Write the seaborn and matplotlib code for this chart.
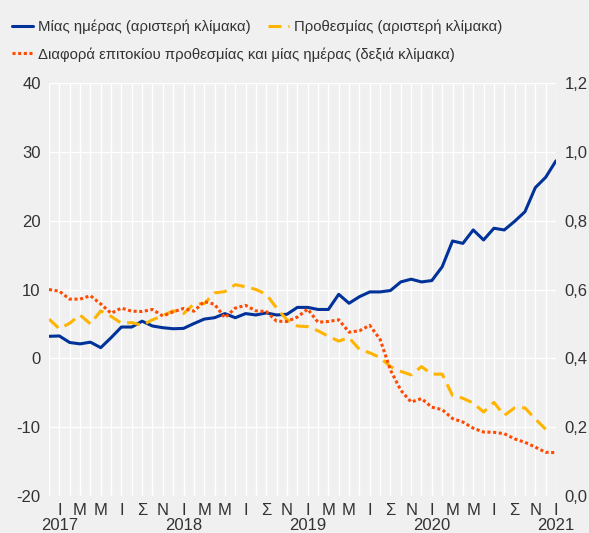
import numpy as np
import pandas as pd
import seaborn as sns
import matplotlib.pyplot as plt
from matplotlib.lines import Line2D
from matplotlib.ticker import FixedLocator, FuncFormatter

# Monthly observations, December 2016 - January 2021
months = pd.date_range("2016-12-01", "2021-01-01", freq="MS")

overnight = [3.2, 3.25, 2.3, 2.1, 2.35, 1.55, 3.0, 4.55, 4.55, 5.4,
             4.7, 4.45, 4.3, 4.35, 5.05, 5.7, 5.9, 6.5, 5.9, 6.5,
             6.3, 6.6, 6.3, 6.4, 7.4, 7.4, 7.1, 7.1, 9.3, 8.0,
             8.95, 9.65, 9.65, 9.85, 11.1, 11.5, 11.1, 11.3, 13.3, 17.05,
             16.7, 18.65, 17.2, 18.9, 18.65, 19.9, 21.3, 24.8, 26.3, 28.7]

term = [5.7, 4.3, 5.1, 6.3, 5.0, 6.9, 6.1, 5.1, 5.2, 4.8,
        5.6, 6.2, 6.9, 6.5, 7.9, 7.95, 9.5, 9.7, 10.7, 10.4,
        10.0, 9.3, 7.3, 5.6, 4.7, 4.6, 4.0, 3.2, 2.5, 3.0,
        1.3, 0.8, 0.1, -1.2, -1.9, -2.4, -1.2, -2.3, -2.3, -5.4,
        -5.8, -6.5, -7.8, -6.4, -8.3, -7.2, -7.2, -8.8, -10.3, np.nan]

spread = [0.600, 0.595, 0.572, 0.572, 0.582, 0.558, 0.531, 0.546, 0.537, 0.536,
          0.542, 0.523, 0.535, 0.545, 0.537, 0.565, 0.557, 0.518, 0.546, 0.554,
          0.538, 0.536, 0.508, 0.507, 0.520, 0.543, 0.505, 0.507, 0.512, 0.476,
          0.480, 0.496, 0.455, 0.366, 0.307, 0.273, 0.283, 0.258, 0.251, 0.225,
          0.215, 0.197, 0.186, 0.185, 0.181, 0.166, 0.156, 0.142, 0.127, 0.126]

month_initials = ["Ι", "Φ", "Μ", "Α", "Μ", "Ι", "Ι", "Α", "Σ", "Ο", "Ν", "Δ"]

label_overnight = "Μίας ημέρας (αριστερή κλίμακα)"
label_term = "Προθεσμίας (αριστερή κλίμακα)"
label_spread = "Διαφορά επιτοκίου προθεσμίας και μίας ημέρας (δεξιά κλίμακα)"

left_ticks = [-20, -10, 0, 10, 20, 30, 40]
right_ticks = [0.0, 0.2, 0.4, 0.6, 0.8, 1.0, 1.2]

BG = "#F0F0F0"
BLUE = "#003299"
YELLOW = "#FFB400"
ORANGE = "#FF4B00"
TEXT = "#333333"

df = pd.DataFrame({
    "t": np.arange(len(months)),
    "overnight": overnight,
    "term": term,
    "spread": spread,
})

sns.set_theme(style="white")
plt.rcParams["font.family"] = ["Liberation Sans", "DejaVu Sans"]
plt.rcParams["text.color"] = TEXT

W, H = 589, 533
fig = plt.figure(figsize=(W / 100, H / 100), dpi=100, facecolor=BG)
x0, x1, y0, y1 = 49, 556, 83, 496
ax = fig.add_axes([x0 / W, 1 - y1 / H, (x1 - x0) / W, (y1 - y0) / H])
ax.set_facecolor(BG)

LW = 2.2
DASH = (0, (4.2, 2.3))
DOT = (0, (1, 0.85))
sns.lineplot(data=df, x="t", y="overnight", ax=ax, color=BLUE, lw=LW,
             legend=False)
sns.lineplot(data=df, x="t", y="term", ax=ax, color=YELLOW, lw=LW,
             linestyle=DASH, legend=False)

ax2 = ax.twinx()
sns.lineplot(data=df, x="t", y="spread", ax=ax2, color=ORANGE, lw=LW,
             linestyle=DOT, legend=False)

# axes ranges
n = len(months)
ax.set_xlim(0, n - 1)
ax.set_ylim(-20, 40)
ax2.set_ylim(0, 1.2)

# month initials (every second month) as major labels, years as minor labels
month_labels = [month_initials[d.month - 1] if d.month % 2 == 1 else ""
                for d in months]
ax.xaxis.set_major_locator(FixedLocator(np.arange(n)))
ax.set_xticklabels(month_labels)
jan = [i for i, d in enumerate(months) if d.month == 1]
ax.xaxis.remove_overlapping_locs = False
ax.xaxis.set_minor_locator(FixedLocator(jan))
ax.set_xticks(jan, [str(months[i].year) for i in jan], minor=True)

ax.set_yticks(left_ticks)
ax.set_yticklabels([str(v) for v in left_ticks])
ax2.set_yticks(right_ticks)
ax2.yaxis.set_major_formatter(FuncFormatter(lambda v, _: f"{v:.1f}".replace(".", ",")))

for a in (ax, ax2):
    a.set_xlabel("")
    a.set_ylabel("")
    for s in a.spines.values():
        s.set_visible(False)
    a.tick_params(which="both", length=0, labelsize=12, labelcolor=TEXT)
ax.tick_params(axis="x", which="major", pad=5)
ax.tick_params(axis="x", which="minor", pad=15.5)
ax.tick_params(axis="y", pad=6)
ax2.tick_params(axis="y", pad=6)

ax.grid(True, which="major", color="white", lw=1.0)
ax.grid(False, which="minor")
ax2.grid(False)
ax.set_axisbelow(True)

# legend above the plot
h_over = Line2D([], [], color=BLUE, lw=LW)
h_term = Line2D([], [], color=YELLOW, lw=LW, linestyle=DASH)
h_spread = Line2D([], [], color=ORANGE, lw=LW, linestyle=DOT)
common = dict(loc="upper left", frameon=False, fontsize=10.7, handlelength=1.4,
              handletextpad=0.35, borderpad=0, borderaxespad=0,
              labelcolor=TEXT)
leg1 = fig.legend([h_over, h_term], [label_overnight, label_term], ncol=2,
                  columnspacing=1.2, bbox_to_anchor=(12 / W, 1 - 20 / H),
                  **common)
leg2 = fig.legend([h_spread], [label_spread],
                  bbox_to_anchor=(12 / W, 1 - 47 / H), **common)

fig.savefig("out.png", dpi=100, facecolor=BG)
